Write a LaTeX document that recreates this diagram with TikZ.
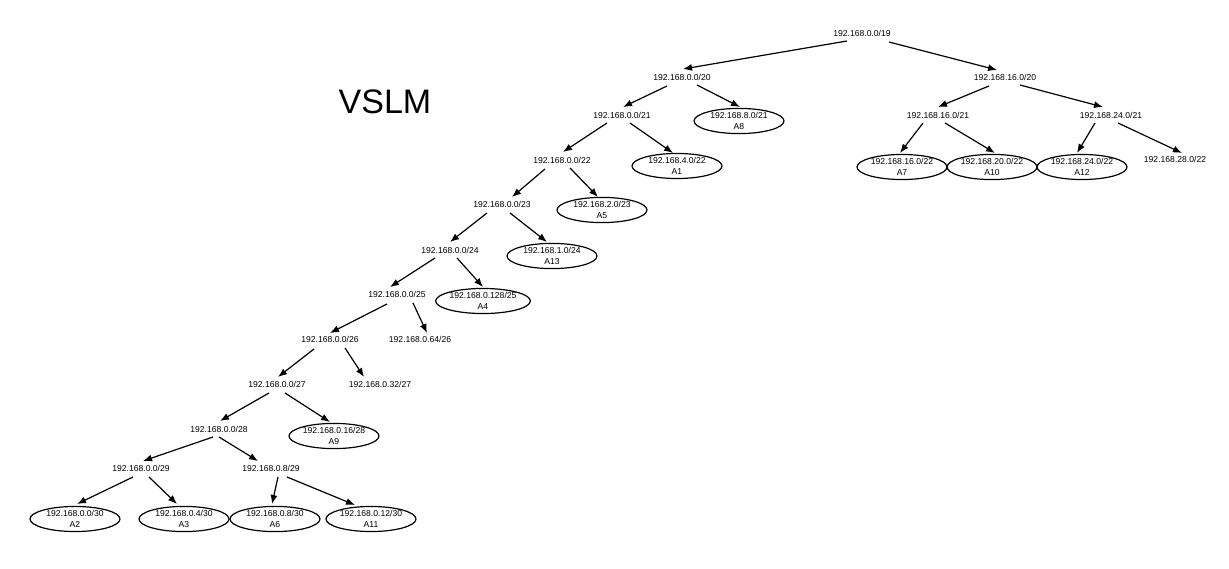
\documentclass[tikz,border=0pt]{standalone}
\usepackage{fontspec}
\setmainfont{Liberation Sans}
\usetikzlibrary{arrows.meta,calc,shapes.geometric}
\tikzset{
  lbl/.style={inner sep=0pt,font=\fontsize{8.6}{11.5}\selectfont},
  leaf/.style={ellipse,draw,line width=1.2pt,minimum width=90pt,minimum height=25pt,inner sep=0pt,align=center,font=\fontsize{8.6}{11.5}\selectfont},
  arr/.style={line width=1.2pt,-{Latex[length=9pt,width=7pt]}}
}
\begin{document}
\begin{tikzpicture}[x=1pt,y=-1pt]
\useasboundingbox (0,0) rectangle (1229,569);
\fill[white] (0,0) rectangle (1229,569);
\node[font=\fontsize{34}{40}\selectfont,inner sep=0pt] (title) at (385,102) {VSLM};
% text nodes
\node[lbl] (n19) at (862,33) {192.168.0.0/19};
\node[lbl] (n20a) at (682,77) {192.168.0.0/20};
\node[lbl] (n20b) at (1005,77) {192.168.16.0/20};
\node[lbl] (n21a) at (622,115) {192.168.0.0/21};
\node[lbl] (n21b) at (938,115) {192.168.16.0/21};
\node[lbl] (n21c) at (1111,115) {192.168.24.0/21};
\node[lbl] (n22a) at (562,160) {192.168.0.0/22};
\node[lbl] (n22d) at (1175,159) {192.168.28.0/22};
\node[lbl] (n23) at (502,204) {192.168.0.0/23};
\node[lbl] (n24) at (450,250) {192.168.0.0/24};
\node[lbl] (n25) at (397,294) {192.168.0.0/25};
\node[lbl] (n26) at (330,339) {192.168.0.0/26};
\node[lbl] (n26b) at (420,339) {192.168.0.64/26};
\node[lbl] (n27) at (277,384) {192.168.0.0/27};
\node[lbl] (n27b) at (380,384) {192.168.0.32/27};
\node[lbl] (n28) at (219,429) {192.168.0.0/28};
\node[lbl] (n29a) at (141,468) {192.168.0.0/29};
\node[lbl] (n29b) at (271,468) {192.168.0.8/29};
% leaves
\node[leaf] (A8) at (739,121) {192.168.8.0/21\\A8};
\node[leaf] (A1) at (677,166) {192.168.4.0/22\\A1};
\node[leaf] (A7) at (902,167) {192.168.16.0/22\\A7};
\node[leaf] (A10) at (992,167) {192.168.20.0/22\\A10};
\node[leaf] (A12) at (1082,167) {192.168.24.0/22\\A12};
\node[leaf] (A5) at (602,210) {192.168.2.0/23\\A5};
\node[leaf] (A13) at (552,256) {192.168.1.0/24\\A13};
\node[leaf] (A4) at (483,301) {192.168.0.128/25\\A4};
\node[leaf] (A9) at (334,436) {192.168.0.16/28\\A9};
\node[leaf] (A2) at (75,519) {192.168.0.0/30\\A2};
\node[leaf] (A3) at (184,519) {192.168.0.4/30\\A3};
\node[leaf] (A6) at (275,519) {192.168.0.8/30\\A6};
\node[leaf] (A11) at (371,519) {192.168.0.12/30\\A11};
% edges
\draw[arr] ($(n19)+(-15,8)$) -- ($(n20a)+(1,-8)$);
\draw[arr] ($(n19)+(27,9)$) -- ($(n20b)+(-8,-7)$);
\draw[arr] ($(n20a)+(-15,9)$) -- ($(n21a)+(1,-8)$);
\draw[arr] ($(n20a)+(15,8)$) -- ($(A8)+(1,-14)$);
\draw[arr] ($(n21a)+(-15,8)$) -- ($(n22a)+(1,-8)$);
\draw[arr] ($(n21a)+(8,8)$) -- ($(A1)+(-4,-13)$);
\draw[arr] ($(n20b)+(-16,9)$) -- ($(n21b)+(0,-8)$);
\draw[arr] ($(n20b)+(15,8)$) -- ($(n21c)+(-8,-8)$);
\draw[arr] ($(n21b)+(-15,8)$) -- ($(A7)+(-2,-14)$);
\draw[arr] ($(n21b)+(7,8)$) -- ($(A10)+(3,-14)$);
\draw[arr] ($(n21c)+(-16,8)$) -- ($(A12)+(-5,-14)$);
\draw[arr] ($(n21c)+(7,8)$) -- ($(n22d)+(7,-6)$);
\draw[arr] ($(n22a)+(-17,9)$) -- ($(n23)+(10,-7)$);
\draw[arr] ($(n22a)+(8,8)$) -- ($(A5)+(-4,-13)$);
\draw[arr] ($(n23)+(-15,9)$) -- ($(n24)+(0,-8)$);
\draw[arr] ($(n23)+(8,9)$) -- ($(A13)+(-5,-14)$);
\draw[arr] ($(n24)+(-15,8)$) -- ($(n25)+(-7,-7)$);
\draw[arr] ($(n24)+(7,8)$) -- ($(A4)+(0,-14)$);
\draw[arr] ($(n25)+(-10,10)$) -- ($(n26)+(0,-6)$);
\draw[arr] ($(n25)+(16,9)$) -- ($(n26b)+(7,-6)$);
\draw[arr] ($(n26)+(-16,10)$) -- ($(n27)+(1,-7)$);
\draw[arr] ($(n26)+(15,9)$) -- ($(n27b)+(-16,-7)$);
\draw[arr] ($(n27)+(-8,9)$) -- ($(n28)+(1,-8)$);
\draw[arr] ($(n27)+(8,9)$) -- ($(A9)+(-4,-14)$);
\draw[arr] ($(n28)+(-6,8)$) -- ($(n29a)+(2,-7)$);
\draw[arr] ($(n28)+(0,8)$) -- ($(n29b)+(-13,-7)$);
\draw[arr] ($(n29a)+(-8,9)$) -- ($(A2)+(2,-15)$);
\draw[arr] ($(n29a)+(8,9)$) -- ($(A3)+(-7,-15)$);
\draw[arr] ($(n29b)+(7,9)$) -- ($(A6)+(-3,-15)$);
\draw[arr] ($(n29b)+(16,9)$) -- ($(A11)+(-16,-14)$);
\end{tikzpicture}
\end{document}
